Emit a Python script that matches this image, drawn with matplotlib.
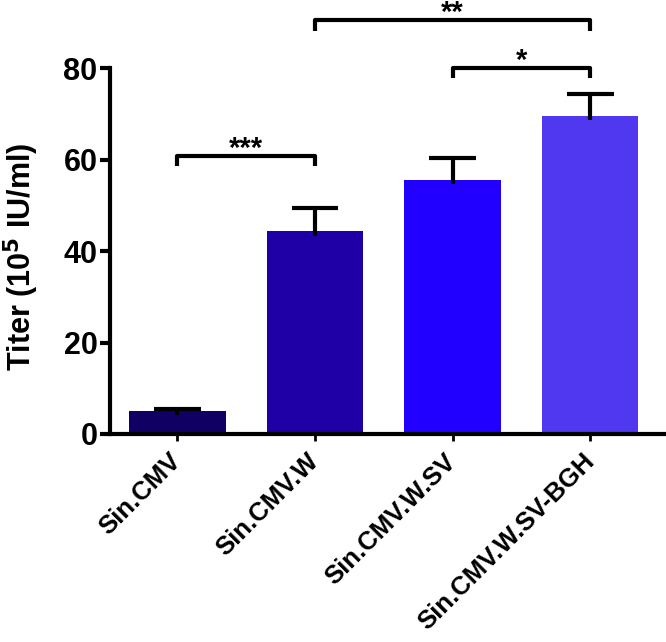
import matplotlib
matplotlib.use("Agg")
from matplotlib import pyplot as plt
from matplotlib import font_manager
import numpy as np

# data
groups = ["Sin.CMV", "Sin.CMV.W", "Sin.CMV.W.SV", "Sin.CMV.W.SV-BGH"]
titer = [5.1, 44.3, 55.6, 69.6]
sem = [0.4, 5.0, 4.7, 4.8]
bar_colors = ["#110064", "#1e00a6", "#2200ff", "#5038f0"]

# significance brackets: (left group, right group, height, label)
sig_pairs = [(0, 1, 60.8, "***"), (1, 3, 90.5, "**"), (2, 3, 80.1, "*")]

names = {f.name for f in font_manager.fontManager.ttflist}
narrow = "Liberation Sans Narrow" if "Liberation Sans Narrow" in names else "Liberation Sans"

plt.rcParams["font.family"] = ["Liberation Sans", "DejaVu Sans"]
plt.rcParams["font.weight"] = "bold"

fig = plt.figure(figsize=(6.66, 6.42), dpi=100)
ax = fig.add_axes([0.165, 0.324, 0.835, 0.570])

x = np.arange(len(groups))
ax.bar(x, titer, width=0.7, color=bar_colors, zorder=2)

# upper error bars only, stem dips slightly into the bar
top = np.array(titer) + np.array(sem)
ax.vlines(x, np.array(titer) - 1.0, top, color="black", lw=3, zorder=3)
ax.hlines(top, x - 0.17, x + 0.17, color="black", lw=3, zorder=3)

ax.set_xlim(-0.49, 3.55)
ax.set_ylim(0, 80)
ax.set_yticks([0, 20, 40, 60, 80])
ax.set_xticks(x)
ax.set_xticklabels(groups, rotation=45, ha="right", va="center",
                   rotation_mode="anchor", fontsize=18.5, fontweight="bold")
for lab in ax.get_yticklabels():
    lab.set_fontsize(22)
    lab.set_fontweight("bold")
    lab.set_family(narrow)

ax.spines["top"].set_visible(False)
ax.spines["right"].set_visible(False)
ax.spines["left"].set_linewidth(3)
ax.spines["bottom"].set_linewidth(3)
ax.tick_params(axis="y", direction="out", length=7, width=3, pad=2)
ax.tick_params(axis="x", direction="out", length=5, width=2, pad=12)

ax.set_ylabel("Titer (10$^{\\mathbf{5}}$ IU/ml)", fontsize=22, fontweight="bold")
ax.yaxis.set_label_coords(-0.124, 0.485)

tip = 2.3
for a, b, h, lab in sig_pairs:
    ax.plot([a, a, b, b], [h - tip, h, h, h - tip], color="black", lw=3,
            clip_on=False, solid_capstyle="butt")
    ax.text((a + b) / 2, h - 1.6, lab, ha="center", va="bottom",
            fontsize=21, fontweight="bold", clip_on=False)

fig.savefig("out.png", dpi=100)
